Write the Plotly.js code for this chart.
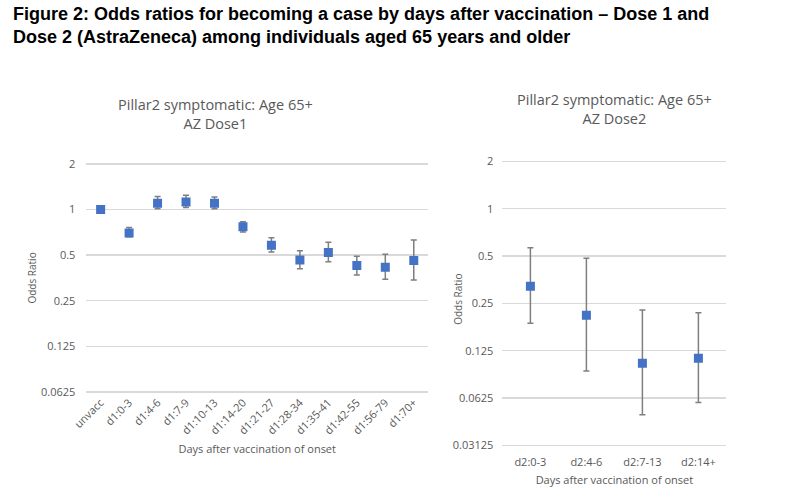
<!DOCTYPE html>
<html>
<head>
<meta charset="utf-8">
<script src="https://cdn.plot.ly/plotly-3.0.1.min.js"></script>
<style>
  html, body { margin: 0; padding: 0; background: #ffffff; }
  #chart { width: 800px; height: 499px; }
</style>
</head>
<body>
<div id="chart"></div>
<script>
// Dose 1 odds ratios with 95% CI
var dose1Cats = ["unvacc", "d1:0-3", "d1:4-6", "d1:7-9", "d1:10-13", "d1:14-20",
                 "d1:21-27", "d1:28-34", "d1:35-41", "d1:42-55", "d1:56-79", "d1:70+"]
var dose1OR = [1.0, 0.70, 1.10, 1.12, 1.10, 0.77, 0.58, 0.465, 0.52, 0.427, 0.416, 0.46]
var dose1Hi = [1.0, 0.76, 1.22, 1.24, 1.21, 0.83, 0.652, 0.535, 0.607, 0.491, 0.506, 0.629]
var dose1Lo = [1.0, 0.66, 1.01, 1.03, 1.01, 0.71, 0.524, 0.406, 0.453, 0.369, 0.347, 0.343]

// Dose 2
var dose2Cats = ["d2:0-3", "d2:4-6", "d2:7-13", "d2:14+"]
var dose2OR = [0.321, 0.210, 0.104, 0.112]
var dose2Hi = [0.565, 0.484, 0.227, 0.218]
var dose2Lo = [0.187, 0.093, 0.049, 0.0586]

var leftTicks = [0.0625, 0.125, 0.25, 0.5, 1, 2]
var rightTicks = [0.03125, 0.0625, 0.125, 0.25, 0.5, 1, 2]

function diff(a, b) {
    return a.map(function (v, i) { return Math.abs(v - b[i]) })
}

var grey = "#595959"
var font = "Open Sans, Noto Sans, sans-serif"
var pad = 0.008 // keeps the end gridlines drawn

var trace1 = {
    x: dose1Cats,
    y: dose1OR,
    xaxis: "x",
    yaxis: "y",
    mode: "markers",
    type: "scatter",
    marker: { symbol: "square", size: 9, color: "#4472C4" },
    error_y: {
        type: "data",
        symmetric: false,
        array: diff(dose1Hi, dose1OR),
        arrayminus: diff(dose1OR, dose1Lo),
        color: "#7f7f7f",
        thickness: 1.5,
        width: 3
    },
    hoverinfo: "x+y"
}

var trace2 = {
    x: dose2Cats,
    y: dose2OR,
    xaxis: "x2",
    yaxis: "y2",
    mode: "markers",
    type: "scatter",
    marker: { symbol: "square", size: 9, color: "#4472C4" },
    error_y: {
        type: "data",
        symmetric: false,
        array: diff(dose2Hi, dose2OR),
        arrayminus: diff(dose2OR, dose2Lo),
        color: "#7f7f7f",
        thickness: 1.5,
        width: 3
    },
    hoverinfo: "x+y"
}

var axisFont = { family: font, size: 11, color: grey }

var layout = {
    width: 800,
    height: 499,
    margin: { t: 0, b: 0, l: 0, r: 0, pad: 0 },
    showlegend: false,
    paper_bgcolor: "#ffffff",
    plot_bgcolor: "#ffffff",
    font: { family: font, color: grey },
    xaxis: {
        domain: [0.108, 0.535],
        anchor: "y",
        type: "category",
        range: [-0.5, 11.5],
        showgrid: false,
        zeroline: false,
        showline: false,
        tickangle: -45,
        tickfont: axisFont,
        ticks: "",
        title: { text: "Days after vaccination of onset", font: { family: font, size: 11, color: grey }, standoff: 9 }
    },
    yaxis: {
        domain: [0.212, 0.674],
        anchor: "x",
        type: "log",
        range: [Math.log10(0.0625) - pad, Math.log10(2) + pad],
        tickvals: leftTicks,
        ticktext: leftTicks.map(String),
        tickfont: axisFont,
        gridcolor: "#d9d9d9",
        gridwidth: 1.3,
        zeroline: false,
        showline: false,
        ticks: "",
        ticklabelstandoff: 10,
        title: { text: "Odds Ratio", font: { family: font, size: 10, color: grey }, standoff: 2 }
    },
    xaxis2: {
        domain: [0.628, 0.908],
        anchor: "y2",
        type: "category",
        range: [-0.5, 3.5],
        showgrid: false,
        zeroline: false,
        showline: false,
        tickangle: 0,
        tickfont: axisFont,
        ticks: "",
        ticklabelstandoff: 7,
        title: { text: "Days after vaccination of onset", font: { family: font, size: 11, color: grey }, standoff: 8 }
    },
    yaxis2: {
        domain: [0.105, 0.679],
        anchor: "x2",
        type: "log",
        range: [Math.log10(0.03125) - pad, Math.log10(2) + pad],
        tickvals: rightTicks,
        ticktext: rightTicks.map(String),
        tickfont: axisFont,
        gridcolor: "#d9d9d9",
        gridwidth: 1.3,
        zeroline: false,
        showline: false,
        ticks: "",
        ticklabelstandoff: 8
    },
    annotations: [
        {
            text: "<b>Figure 2: Odds ratios for becoming a case by days after vaccination \u2013 Dose 1 and<br>Dose 2 (AstraZeneca) among individuals aged 65 years and older</b>",
            xref: "paper", yref: "paper",
            x: 0.014, y: 0.995,
            xanchor: "left", yanchor: "top",
            align: "left",
            showarrow: false,
            font: { family: "Liberation Sans, Arial, sans-serif", size: 18, color: "#000000" }
        },
        {
            text: "Pillar2 symptomatic: Age 65+<br>AZ Dose1",
            xref: "paper", yref: "paper",
            x: 0.269, y: 0.814,
            xanchor: "center", yanchor: "top",
            showarrow: false,
            font: { family: font, size: 14.5, color: grey }
        },
        {
            text: "Pillar2 symptomatic: Age 65+<br>AZ Dose2",
            xref: "paper", yref: "paper",
            x: 0.768, y: 0.824,
            xanchor: "center", yanchor: "top",
            showarrow: false,
            font: { family: font, size: 14.5, color: grey }
        },
        {
            // right y-axis title sits left of the tick label column, as in the reference
            text: "Odds Ratio",
            xref: "paper", yref: "paper",
            x: 0.573, y: 0.40,
            xanchor: "center", yanchor: "middle",
            textangle: -90,
            showarrow: false,
            font: { family: font, size: 10, color: grey }
        }
    ]
}

Plotly.newPlot("chart", [trace1, trace2], layout, { displayModeBar: false, staticPlot: true })
</script>
</body>
</html>
